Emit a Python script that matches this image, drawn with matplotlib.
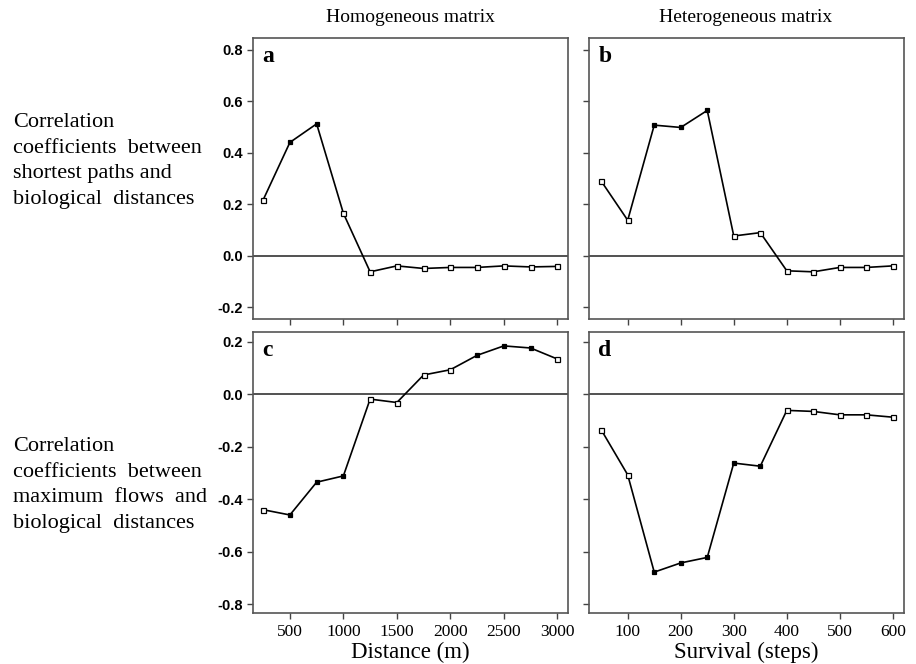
import matplotlib.pyplot as plt
import numpy as np

# x values
distance = [250, 500, 750, 1000, 1250, 1500, 1750, 2000, 2250, 2500, 2750, 3000]
survival = [50, 100, 150, 200, 250, 300, 350, 400, 450, 500, 550, 600]

# correlation coefficients
shortest_homog = [0.217, 0.44, 0.512, 0.165, -0.062, -0.039, -0.049, -0.045, -0.045, -0.039, -0.043, -0.041]
shortest_heter = [0.29, 0.138, 0.507, 0.498, 0.564, 0.077, 0.090, -0.058, -0.062, -0.045, -0.045, -0.039]
flows_homog = [-0.44, -0.46, -0.335, -0.311, -0.018, -0.031, 0.074, 0.094, 0.149, 0.185, 0.177, 0.135]
flows_heter = [-0.135, -0.307, -0.678, -0.643, -0.622, -0.262, -0.274, -0.061, -0.065, -0.078, -0.078, -0.087]

# which points are drawn as filled squares (significant)
sig_a = [0, 1, 1, 0, 0, 0, 0, 0, 0, 0, 0, 0]
sig_b = [0, 0, 1, 1, 1, 0, 0, 0, 0, 0, 0, 0]
sig_c = [0, 1, 1, 1, 0, 0, 0, 0, 1, 1, 1, 0]
sig_d = [0, 0, 1, 1, 1, 1, 1, 0, 0, 0, 0, 0]

plt.rcParams['font.family'] = ['Liberation Serif', 'DejaVu Serif']

fig = plt.figure(figsize=(9.16, 6.64), dpi=100)
W, H = 916.0, 664.0

def box(l, r, t, b):
    return [l / W, 1 - b / H, (r - l) / W, (b - t) / H]

ax_a = fig.add_axes(box(253, 568, 38, 319))
ax_b = fig.add_axes(box(589, 904, 38, 319))
ax_c = fig.add_axes(box(253, 568, 332, 613))
ax_d = fig.add_axes(box(589, 904, 332, 613))

panels = [
    (ax_a, distance, shortest_homog, sig_a, 'a'),
    (ax_b, survival, shortest_heter, sig_b, 'b'),
    (ax_c, distance, flows_homog, sig_c, 'c'),
    (ax_d, survival, flows_heter, sig_d, 'd'),
]

for ax, x, y, sig, letter in panels:
    x = np.array(x)
    y = np.array(y)
    s = np.array(sig, dtype=bool)
    ax.axhline(0, color='#222222', lw=1.1, zorder=1)
    ax.plot(x, y, color='black', lw=1.2, zorder=2)
    ax.plot(x[s], y[s], 's', ms=3.2, mfc='black', mec='black', mew=0.9, ls='none', zorder=3)
    ax.plot(x[~s], y[~s], 's', ms=3.6, mfc='white', mec='black', mew=0.9, ls='none', zorder=3)
    ax.text(0.03, 0.97, letter, transform=ax.transAxes, fontsize=17, fontweight='bold',
            va='top', ha='left')
    for sp in ax.spines.values():
        sp.set_color('#555555')
        sp.set_linewidth(1.2)
    ax.tick_params(direction='out', length=4, width=1.0, color='#444444')

for ax in (ax_a, ax_b):
    ax.set_ylim(-0.245, 0.845)
    ax.set_yticks([-0.2, 0.0, 0.2, 0.4, 0.6, 0.8])
for ax in (ax_c, ax_d):
    ax.set_ylim(-0.834, 0.238)
    ax.set_yticks([-0.8, -0.6, -0.4, -0.2, 0.0, 0.2])
for ax in (ax_a, ax_c):
    ax.set_xlim(155, 3100)
    ax.set_xticks([500, 1000, 1500, 2000, 2500, 3000])
for ax in (ax_b, ax_d):
    ax.set_xlim(27, 621)
    ax.set_xticks([100, 200, 300, 400, 500, 600])

for ax in (ax_a, ax_c):
    ax.set_yticklabels(['%.1f' % v for v in ax.get_yticks()],
                       fontfamily='Liberation Sans', fontweight='bold', fontsize=10.5)
for ax in (ax_b, ax_d):
    ax.set_yticklabels([])
for ax in (ax_a, ax_b):
    ax.set_xticklabels([])
for ax in (ax_c, ax_d):
    ax.set_xticklabels([str(v) for v in ax.get_xticks()], fontsize=12.5)
    ax.tick_params(axis='x', pad=4)

ax_c.set_xlabel('Distance (m)', fontsize=16.5, labelpad=1)
ax_d.set_xlabel('Survival (steps)', fontsize=16.5, labelpad=1)

fig.text(410 / W, 1 - 18 / H, 'Homogeneous matrix', fontsize=14, ha='center', va='center')
fig.text(746 / W, 1 - 18 / H, 'Heterogeneous matrix', fontsize=14, ha='center', va='center')

fig.text(13 / W, 1 - 161 / H,
         'Correlation\ncoefficients  between\nshortest paths and\nbiological  distances',
         fontsize=16, ha='left', va='center', linespacing=1.47)
fig.text(13 / W, 1 - 485 / H,
         'Correlation\ncoefficients  between\nmaximum  flows  and\nbiological  distances',
         fontsize=16, ha='left', va='center', linespacing=1.47)

fig.savefig('out.png', dpi=100)
